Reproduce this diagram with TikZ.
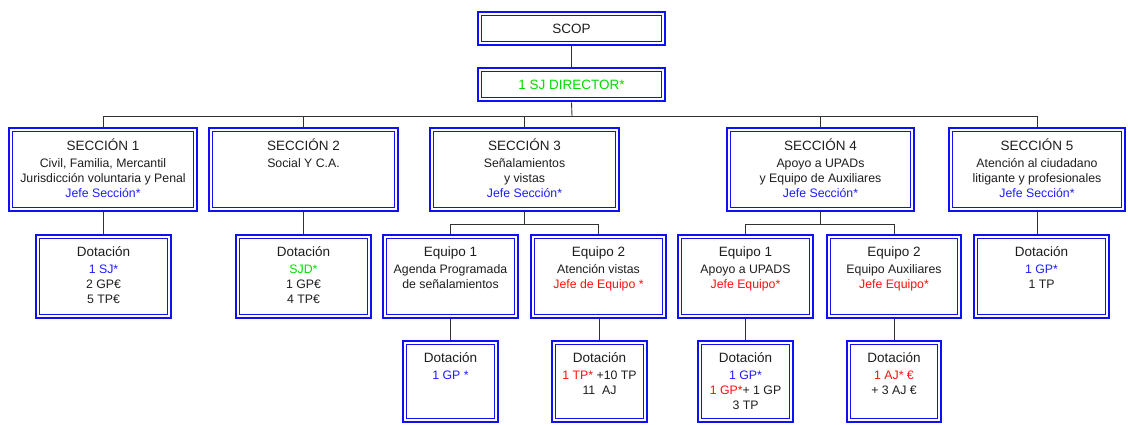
\documentclass[tikz,border=0pt]{standalone}
\usepackage{fontspec}
\setmainfont{Liberation Sans}
\definecolor{boxblue}{RGB}{16,16,245}
\definecolor{txtblue}{RGB}{30,30,255}
\definecolor{txtgreen}{RGB}{0,220,0}
\definecolor{txtred}{RGB}{255,16,16}
\definecolor{txtgray}{RGB}{30,30,30}
\definecolor{linegray}{RGB}{50,50,50}
\newcommand\hd[1]{{\fontsize{13.5}{15}\selectfont\rule{0pt}{12pt}#1}\\[2pt]}
\newcommand\orgbox[5]{%
  \node[orgframe, minimum width=#4pt-#2pt, minimum height=#5pt-#3pt] (#1) at ({(#2+#4)/2},{(#3+#5)/2}) {};}
\begin{document}
\begin{tikzpicture}[x=1pt,y=-1pt,
  orgframe/.style={draw=boxblue, line width=2.6pt, inner sep=0pt, fill=white,
    path picture={\draw[boxblue, line width=0.9pt]
      ([shift={(3.3pt,3.3pt)}]path picture bounding box.south west) rectangle
      ([shift={(-3.3pt,-3.3pt)}]path picture bounding box.north east);}},
  txt/.style={inner sep=0pt, align=center, text=txtgray, font=\fontsize{12.3}{15}\selectfont},
  conn/.style={draw=linegray, line width=0.9pt}]
\useasboundingbox (0,0) rectangle (1128,424);
% boxes
\orgbox{scop}{478}{12}{665}{45}
\orgbox{dir}{478}{68}{665}{101}
\orgbox{s1}{9}{128}{197}{211}
\orgbox{s2}{209}{128}{398}{211}
\orgbox{s3}{430}{128}{619}{211}
\orgbox{s4}{727}{128}{914}{211}
\orgbox{s5}{949}{128}{1125}{211}
\orgbox{d1}{36}{235}{171}{318}
\orgbox{d2}{236}{235}{371}{318}
\orgbox{e31}{383}{235}{518}{318}
\orgbox{e32}{531}{235}{666}{318}
\orgbox{e41}{678}{235}{813}{318}
\orgbox{e42}{827}{235}{961}{318}
\orgbox{d5}{974}{235}{1109}{318}
\orgbox{d31}{403}{341}{498}{422}
\orgbox{d32}{552}{341}{647}{422}
\orgbox{d41}{698}{341}{793}{422}
\orgbox{d42}{847}{341}{941}{422}
% texts
\node[txt, font=\fontsize{13.5}{15}\selectfont] (scopt) at (scop.center) {SCOP};
\node[txt, font=\fontsize{13.5}{15}\selectfont, text=txtgreen] (dirt) at (dir.center) {1 SJ DIRECTOR*};
\node[txt, anchor=north] (s1t) at ([yshift=-11.5pt]s1.north) {\hd{SECCIÓN 1}Civil, Familia, Mercantil\\Jurisdicción voluntaria y Penal\\\textcolor{txtblue}{Jefe Sección*}};
\node[txt, anchor=north] (s2t) at ([yshift=-11.5pt]s2.north) {\hd{SECCIÓN 2}Social Y C.A.};
\node[txt, anchor=north] (s3t) at ([yshift=-11.5pt]s3.north) {\hd{SECCIÓN 3}Señalamientos\\y vistas\\\textcolor{txtblue}{Jefe Sección*}};
\node[txt, anchor=north] (s4t) at ([yshift=-11.5pt]s4.north) {\hd{SECCIÓN 4}Apoyo a UPADs\\y Equipo de Auxiliares\\\textcolor{txtblue}{Jefe Sección*}};
\node[txt, anchor=north] (s5t) at ([yshift=-11.5pt]s5.north) {\hd{SECCIÓN 5}Atención al ciudadano\\litigante y profesionales\\\textcolor{txtblue}{Jefe Sección*}};
\node[txt, anchor=north] (d1t) at ([yshift=-11pt]d1.north) {\hd{Dotación}\textcolor{txtblue}{1 SJ*}\\2 GP€\\5 TP€};
\node[txt, anchor=north] (d2t) at ([yshift=-11pt]d2.north) {\hd{Dotación}\textcolor{txtgreen}{SJD*}\\1 GP€\\4 TP€};
\node[txt, anchor=north] (e31t) at ([yshift=-11pt]e31.north) {\hd{Equipo 1}Agenda Programada\\de señalamientos};
\node[txt, anchor=north] (e32t) at ([yshift=-11pt]e32.north) {\hd{Equipo 2}Atención vistas\\\textcolor{txtred}{Jefe de Equipo *}};
\node[txt, anchor=north] (e41t) at ([yshift=-11pt]e41.north) {\hd{Equipo 1}Apoyo a UPADS\\\textcolor{txtred}{Jefe Equipo*}};
\node[txt, anchor=north] (e42t) at ([yshift=-11pt]e42.north) {\hd{Equipo 2}Equipo Auxiliares\\\textcolor{txtred}{Jefe Equipo*}};
\node[txt, anchor=north] (d5t) at ([yshift=-11pt]d5.north) {\hd{Dotación}\textcolor{txtblue}{1 GP*}\\1 TP};
\node[txt, anchor=north] (d31t) at ([yshift=-10.5pt]d31.north) {\hd{Dotación}\textcolor{txtblue}{1 GP *}};
\node[txt, anchor=north] (d32t) at ([yshift=-10.5pt]d32.north) {\hd{Dotación}\textcolor{txtred}{1 TP*} +10 TP\\11\ \ AJ};
\node[txt, anchor=north] (d41t) at ([yshift=-10.5pt]d41.north) {\hd{Dotación}\textcolor{txtblue}{1 GP*}\\\textcolor{txtred}{1 GP*}+ 1 GP\\3 TP};
\node[txt, anchor=north] (d42t) at ([yshift=-10.5pt]d42.north) {\hd{Dotación}\textcolor{txtred}{1 AJ* €}\\+ 3 AJ €};
% connectors
\coordinate (bus) at (572,116);
\draw[conn] (scop.south) -- (dir.north);
\draw[conn] (dir.south) -- (bus);
\foreach \s in {s1,s2,s3,s4,s5} \draw[conn] (bus) -| (\s.north);
\draw[conn] (s1.south) -- (s1.south |- d1.north);
\draw[conn] (s2.south) -- (s2.south |- d2.north);
\draw[conn] (s5.south) -- (s5.south |- d5.north);
\coordinate (b3) at ([yshift=-12pt]s3.south);
\coordinate (b4) at ([yshift=-12pt]s4.south);
\draw[conn] (s3.south) -- (b3);
\draw[conn] (s4.south) -- (b4);
\draw[conn] (b3) -| (e31.north);
\draw[conn] (b3) -| (e32.north);
\draw[conn] (b4) -| (e41.north);
\draw[conn] (b4) -| (e42.north);
\draw[conn] (d31.north) -- (d31.north |- e31.south);
\draw[conn] (d32.north) -- (d32.north |- e32.south);
\draw[conn] (d41.north) -- (d41.north |- e41.south);
\draw[conn] (d42.north) -- (d42.north |- e42.south);
\end{tikzpicture}
\end{document}
